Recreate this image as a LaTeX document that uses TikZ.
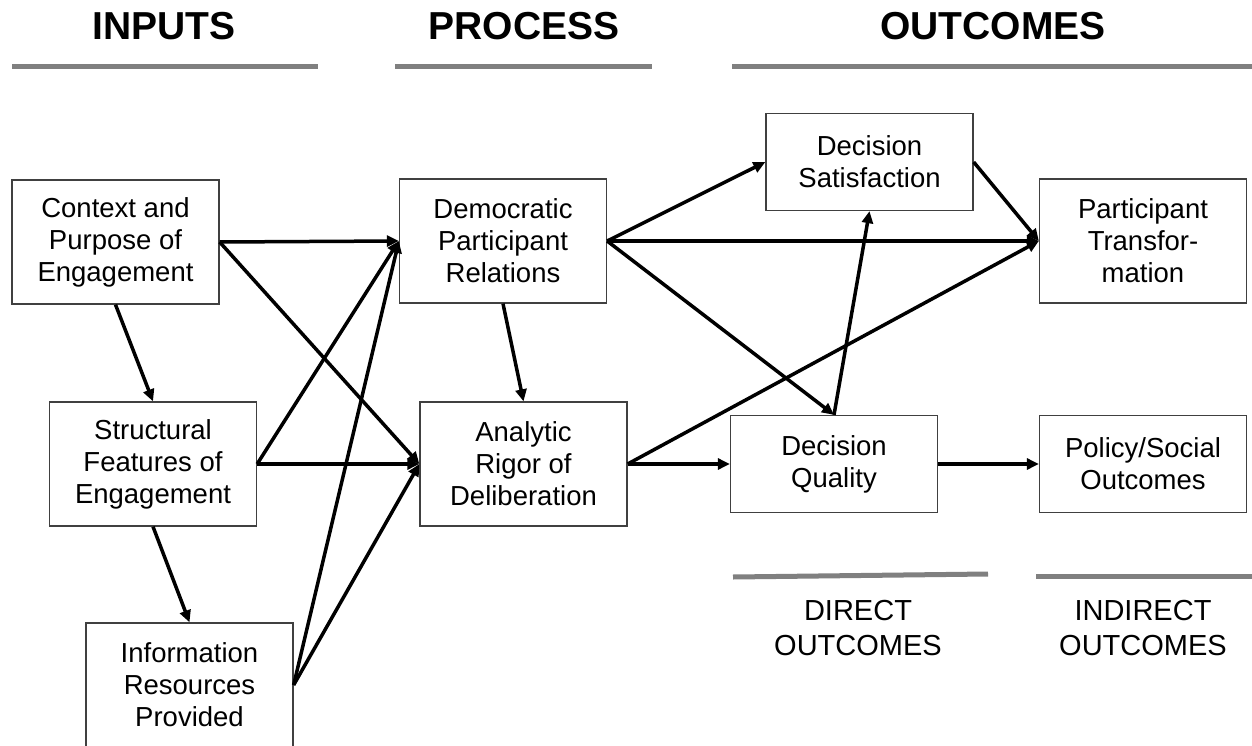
\documentclass[tikz,border=0pt]{standalone}
\usepackage{fontspec}
\setmainfont{Liberation Sans}
\usetikzlibrary{arrows.meta}

\begin{document}
\begin{tikzpicture}[%
      x=1pt, y=-1pt,
      box/.style={draw=black!75, line width=1.3pt, minimum width=207pt, align=center,
        inner sep=0pt, font=\fontsize{27.5}{32}\selectfont},
      tall/.style={box, minimum height=124pt},
      short/.style={box, minimum height=97pt},
      arr/.style={line width=3.5pt, -{Triangle[length=12pt,width=11pt]}},
      bar/.style={color=gray, line width=5pt},
      head/.style={font=\fontsize{39}{44}\bfseries\selectfont},
      foot/.style={align=center, font=\fontsize{29}{35}\selectfont},
      ]
      \useasboundingbox (0,0) rectangle (1252,746);

      \node [head] (tin) at (164,26) {INPUTS};
      \node [head] (tpr) at (524,26) {PROCESS};
      \node [head] (tout) at (993,26) {OUTCOMES};
      \draw [bar] (12,67) -- (318,67);
      \draw [bar] (395,67) -- (652,67);
      \draw [bar] (732,67) -- (1252,67);
      \draw [bar] (733,577) -- (988,574);
      \draw [bar] (1036,576) -- (1252,576);
      \node [foot] (tdir) at (858,628) {DIRECT\\OUTCOMES};
      \node [foot] (tind) at (1143,628) {INDIRECT\\OUTCOMES};

      \node [tall] (ctx) at (115.5,242) {Context and\\Purpose of\\Engagement};
      \node [tall] (str) at (153,464) {Structural\\Features of\\Engagement};
      \node [tall] (inf) at (189.5,685) {Information\\Resources\\Provided};
      \node [tall] (dem) at (503,241) {Democratic\\Participant\\Relations};
      \node [tall] (ana) at (523.5,464) {Analytic\\Rigor of\\Deliberation};
      \node [short] (sat) at (869.5,162) {Decision\\Satisfaction};
      \node [short] (qua) at (834,464) {Decision\\Quality};
      \node [tall] (tra) at (1143,241) {Participant\\Transfor-\\mation};
      \node [short] (pol) at (1143,464) {Policy/Social\\Outcomes};

      \draw [arr] (ctx.east) -- (dem.west);
      \draw [arr] (ctx.east) -- (ana.west);
      \draw [arr] (ctx.south) -- (str.north);
      \draw [arr] (str.east) -- (dem.west);
      \draw [arr] (str.east) -- (ana.west);
      \draw [arr] (str.south) -- (inf.north);
      \draw [arr] (inf.east) -- (dem.west);
      \draw [arr] (inf.east) -- (ana.west);
      \draw [arr] (dem.south) -- (ana.north);
      \draw [arr] (dem.east) -- (sat.west);
      \draw [arr] (dem.east) -- (tra.west);
      \draw [arr] (dem.east) -- (qua.north);
      \draw [arr] (ana.east) -- (qua.west);
      \draw [arr] (ana.east) -- (tra.west);
      \draw [arr] (qua.north) -- (sat.south);
      \draw [arr] (sat.east) -- (tra.west);
      \draw [arr] (qua.east) -- (pol.west);
      \end{tikzpicture}
\end{document}
